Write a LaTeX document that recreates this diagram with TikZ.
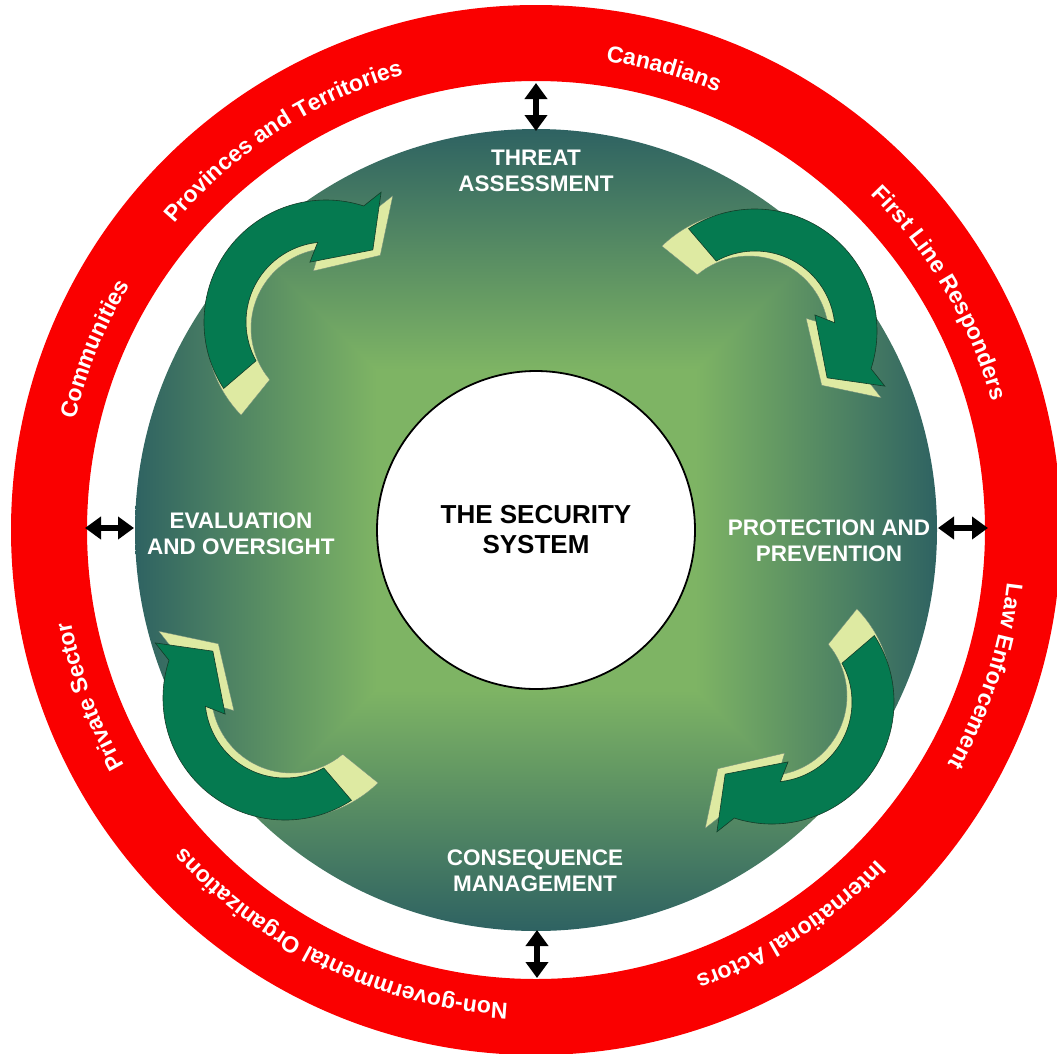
\documentclass[tikz,border=0pt]{standalone}
\usepackage{fontspec}
\setmainfont{Liberation Sans}
\usetikzlibrary{decorations.text,arrows.meta}
\definecolor{ringred}{RGB}{250,0,0}
\definecolor{tealc}{RGB}{46,98,98}
\definecolor{lgr}{RGB}{126,180,100}
\definecolor{arrg}{RGB}{5,122,80}
\definecolor{arrpale}{RGB}{222,234,162}
\definecolor{arrline}{RGB}{20,60,40}
\pgfdeclareverticalshading{gradtop}{100bp}{color(0bp)=(lgr); color(45bp)=(lgr); color(75bp)=(tealc); color(100bp)=(tealc)}
\pgfdeclareverticalshading{gradbot}{100bp}{color(0bp)=(tealc); color(25bp)=(tealc); color(55bp)=(lgr); color(100bp)=(lgr)}
\pgfdeclarehorizontalshading{gradleft}{100bp}{color(0bp)=(tealc); color(25bp)=(tealc); color(55bp)=(lgr); color(100bp)=(lgr)}
\pgfdeclarehorizontalshading{gradright}{100bp}{color(0bp)=(lgr); color(45bp)=(lgr); color(75bp)=(tealc); color(100bp)=(tealc)}
\tikzset{
  greenlab/.style={text=white, font=\bfseries\fontsize{22.5}{26}\selectfont, align=center, inner sep=0pt},
  ringlab/.style={decorate, decoration={text along path, text={|\bfseries\fontsize{23}{23}\selectfont|#1}, text align=center, text color=white}},
  dblarrow/.style={line width=6pt, {Triangle[width=22pt,length=16pt]}-{Triangle[width=22pt,length=16pt]}},
  arrbody/.style={fill=arrg, draw=arrline, line width=0.6pt},
  arrshadow/.style={fill=arrpale, draw=arrline!60, line width=0.3pt}
}
\newcommand\greenarrow[3]{%
\begin{scope}[shift={(#1,#2)}]
  \begin{scope}[shift={({51.3+#3}:8)}]
    \path[arrshadow] ({136+#3}:125) arc[start angle={136+#3}, end angle={290+#3}, radius=125]
      -- ({295+#3}:146) -- ({304+#3}:88) -- ({253+#3}:60) -- ({262+#3}:80)
      arc[start angle={262+#3}, end angle={140+#3}, radius=80] -- cycle;
  \end{scope}
  \path[arrbody] ({147+#3}:122) arc[start angle={147+#3}, end angle={288+#3}, radius=122]
    -- ({293+#3}:141) -- ({303+#3}:86) -- ({255+#3}:62) -- ({264+#3}:80)
    arc[start angle={264+#3}, end angle={151+#3}, radius=80] -- cycle;
\end{scope}}
\newcommand\ringtext[3]{\path[ringlab={#1}] (536,530) ++({#2-#3}:474) arc[start angle={#2-#3}, end angle={#2+#3}, radius=474];}
\begin{document}
\begin{tikzpicture}[x=1pt,y=-1pt]
\useasboundingbox (0,0) rectangle (1057,1053);
% red ring
\fill[ringred, even odd rule] (536,530) circle[radius=525] (536,530) circle[radius=449];
% green disc with rectangular gradient
\begin{scope}
  \clip (536,530) circle[radius=401];
  \shade[shading=gradleft] (539,530) -- (133,126) -- (133,934) -- cycle;
  \shade[shading=gradright] (533,530) -- (939,126) -- (939,934) -- cycle;
  \shade[shading=gradtop] (536,530) -- (132,129) -- (940,129) -- cycle;
  \shade[shading=gradbot] (536,530) -- (132,931) -- (940,931) -- cycle;
\end{scope}
% curved arrows
\greenarrow{326}{322}{0}
\greenarrow{755}{331}{90}
\greenarrow{772}{702}{180}
\greenarrow{285}{698}{270}
% ring labels
\ringtext{Canadians}{-74.5}{30}
\ringtext{Provinces and Territories}{-123}{40}
\ringtext{Communities}{-157.7}{30}
\ringtext{First Line Responders}{-30.4}{40}
\ringtext{Law Enforcement}{18}{30}
\ringtext{International Actors}{57.2}{35}
\ringtext{Non-govermmental Organizations}{115.7}{50}
\ringtext{Private Sector}{159.5}{30}
% inner labels
\node[greenlab] (threat) at (536,171) {THREAT\\ASSESSMENT};
\node[greenlab] (evalo) at (241,534) {EVALUATION\\AND OVERSIGHT};
\node[greenlab] (prot) at (829,541) {PROTECTION AND\\PREVENTION};
\node[greenlab] (conseq) at (535,871) {CONSEQUENCE\\MANAGEMENT};
% centre
\node[circle, draw=black, line width=1.8pt, fill=white, minimum size=318pt, inner sep=0pt,
      font=\bfseries\fontsize{26}{30}\selectfont, align=center] (core) at (536,530) {THE SECURITY\\SYSTEM};
% double arrows
\coordinate (rT) at (536,83);  \coordinate (gT) at (536,131);
\coordinate (rB) at (537,978); \coordinate (gB) at (537,930);
\coordinate (rL) at (85,528);  \coordinate (gL) at (134,528);
\coordinate (rR) at (988,528); \coordinate (gR) at (938,528);
\draw[dblarrow] (rT) -- (gT);
\draw[dblarrow] (gB) -- (rB);
\draw[dblarrow] (rL) -- (gL);
\draw[dblarrow] (gR) -- (rR);
\end{tikzpicture}
\end{document}
